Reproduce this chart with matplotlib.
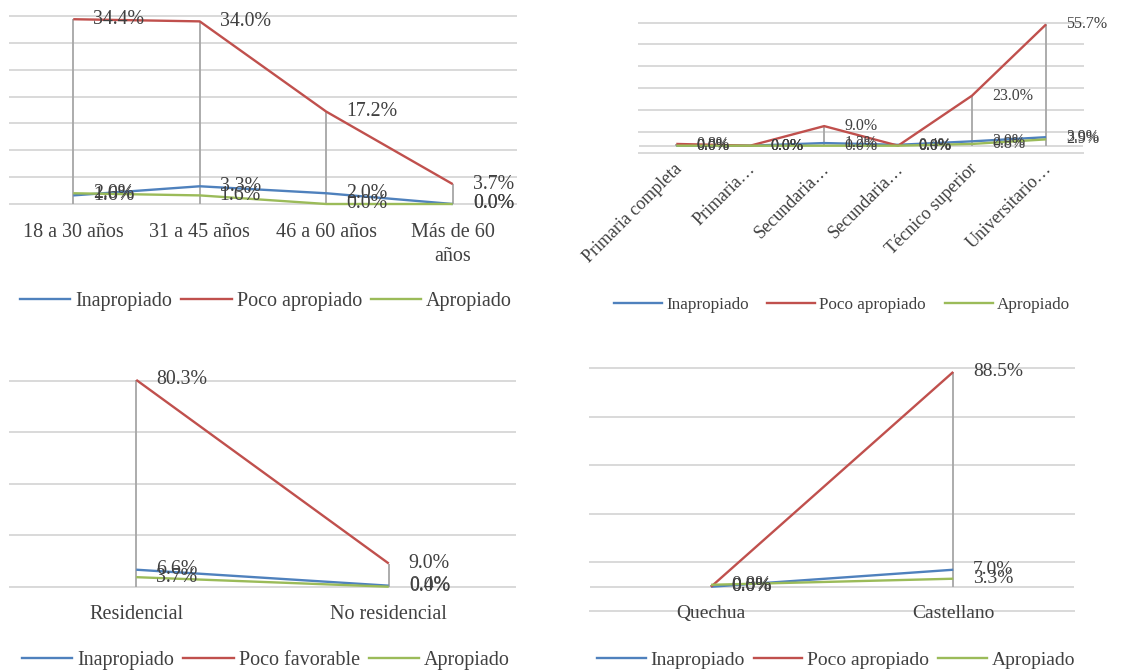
import matplotlib.pyplot as plt
from matplotlib.lines import Line2D

plt.rcParams["font.family"] = ["Liberation Serif", "DejaVu Serif"]

W, H = 1148, 670

BLUE = "#4F81BD"
RED = "#C0504D"
GREEN = "#9BBB59"
GRID = "#D9D9D9"
DROP = "#A6A6A6"
TXT = "#404040"

# Edad
edad_cats = ["18 a 30 años", "31 a 45 años", "46 a 60 años", "Más de 60\naños"]
edad_inap = [1.6, 3.3, 2.0, 0.0]
edad_poco = [34.4, 34.0, 17.2, 3.7]
edad_apro = [2.0, 1.6, 0.0, 0.0]

# Grado de instrucción
instr_cats = ["Primaria completa", "Primaria…", "Secundaria…", "Secundaria…",
              "Técnico superior", "Universitario…"]
instr_inap = [0.0, 0.0, 1.2, 0.4, 2.0, 3.9]
instr_poco = [0.8, 0.0, 9.0, 0.0, 23.0, 55.7]
instr_apro = [0.0, 0.0, 0.0, 0.0, 0.8, 2.9]

# Residencia
res_cats = ["Residencial", "No residencial"]
res_inap = [6.6, 0.4]
res_poco = [80.3, 9.0]
res_apro = [3.7, 0.0]

# Idioma
idioma_cats = ["Quechua", "Castellano"]
idioma_inap = [0.0, 7.0]
idioma_poco = [0.0, 88.5]
idioma_apro = [0.8, 3.3]

fig = plt.figure(figsize=(W / 100, H / 100), dpi=100)


def px_axes(x0, x1, ytop, ybot):
    return fig.add_axes([x0 / W, 1 - ybot / H, (x1 - x0) / W, (ybot - ytop) / H])


def draw_panel(ax, cats, inap, poco, apro, ylim, grid_vals, fs_lab, fs_tick,
               rotate=False, label_dx=20):
    n = len(cats)
    xs = list(range(n))
    ax.set_xlim(-0.5, n - 0.5)
    ax.set_ylim(*ylim)
    ax.axis("off")
    for g in grid_vals:
        ax.axhline(g, color=GRID, lw=1.4, zorder=1, clip_on=False)
    ax.axhline(0, color=GRID, lw=1.4, zorder=1)
    # drop lines from the highest series down to zero
    tops = [max(a, b, c) for a, b, c in zip(inap, poco, apro)]
    ax.vlines(xs, 0, tops, color=DROP, lw=1.3, zorder=2)
    for vals, col in ((inap, BLUE), (poco, RED), (apro, GREEN)):
        ax.plot(xs, vals, color=col, lw=1.7, zorder=3, clip_on=False,
                solid_capstyle="butt")
    for vals in (inap, poco, apro):
        for x, v in zip(xs, vals):
            ax.annotate(f"{v:.1f}%", (x, v), xytext=(label_dx * 0.72, 0),
                        textcoords="offset points", ha="left", va="center",
                        fontsize=fs_lab, color=TXT, zorder=4)
    for x, c in zip(xs, cats):
        if rotate:
            ax.annotate(c, (x, 0), xytext=(2, -15), textcoords="offset points",
                        ha="right", va="center", rotation=45,
                        rotation_mode="anchor", fontsize=fs_tick, color=TXT)
        else:
            ax.annotate(c, (x, 0), xytext=(0, -13.5), textcoords="offset points",
                        ha="center", va="top", fontsize=fs_tick, color=TXT,
                        linespacing=1.4, multialignment="center")


def legend(ax, labels, cx, cy, fs, hl, cs):
    handles = [Line2D([], [], color=c, lw=1.7) for c in (BLUE, RED, GREEN)]
    leg = ax.legend(handles, labels, loc="center",
                    bbox_to_anchor=(cx / W, 1 - cy / H),
                    bbox_transform=fig.transFigure, ncol=3, frameon=False,
                    fontsize=fs, handlelength=hl, handletextpad=0.25,
                    columnspacing=cs, borderpad=0)
    for t in leg.get_texts():
        t.set_color(TXT)


ax1 = px_axes(10, 516, 16, 204)
draw_panel(ax1, edad_cats, edad_inap, edad_poco, edad_apro, (0, 35),
           [0, 5, 10, 15, 20, 25, 30, 35], 14.3, 14.5)
legend(ax1, ["Inapropiado", "Poco apropiado", "Apropiado"], 266, 301, 14.5, 2.5, 0.45)

ax2 = px_axes(639.3, 1083, 22.7, 153.3)
draw_panel(ax2, instr_cats, instr_inap, instr_poco, instr_apro, (-3.5, 56.5),
           [-3.5, 6.5, 16.5, 26.5, 36.5, 46.5, 56.5], 11.5, 13, rotate=True)
legend(ax2, ["Inapropiado", "Poco apropiado", "Apropiado"], 842, 305, 12.3, 2.8, 1.1)

ax3 = px_axes(10, 515, 378.1, 586.7)
draw_panel(ax3, res_cats, res_inap, res_poco, res_apro, (0, 81),
           [0, 20, 40, 60, 80], 14.3, 14.5)
legend(ax3, ["Inapropiado", "Poco favorable", "Apropiado"], 266, 660, 14.5, 2.5, 0.45)

ax4 = px_axes(590, 1074.3, 368.3, 611)
draw_panel(ax4, idioma_cats, idioma_inap, idioma_poco, idioma_apro, (-10, 90),
           [-10, 10, 30, 50, 70, 90], 14, 14)
legend(ax4, ["Inapropiado", "Poco apropiado", "Apropiado"], 836, 660, 14, 2.5, 0.45)

fig.savefig("out.png", dpi=100, facecolor="white")
